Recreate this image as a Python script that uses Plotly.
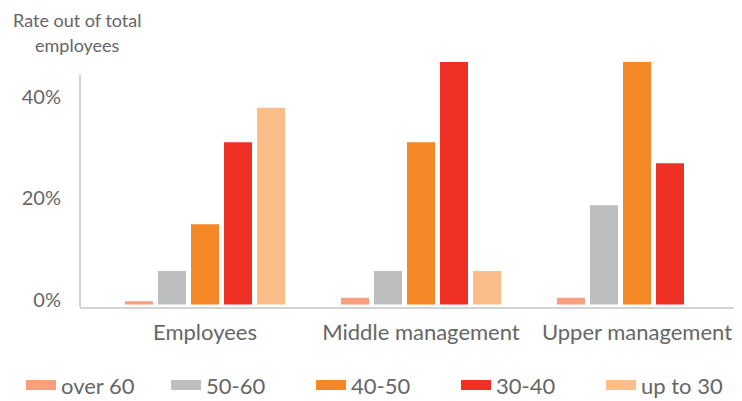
import plotly.graph_objects as go

categories = ["Employees", "Middle management", "Upper management"]
series_names = ["over 60", "50-60", "40-50", "30-40", "up to 30"]
over_60 = [1.6, 2.3, 2.3]
age_50_60 = [7.6, 7.6, 20.5]
age_40_50 = [16.8, 32.9, 48.7]
age_30_40 = [32.9, 48.7, 28.8]
up_to_30 = [39.7, 7.6, None]
y_tick_values = [0, 20, 40]
y_tick_labels = ["0%", "20%", "40%"]

series_values = [over_60, age_50_60, age_40_50, age_30_40, up_to_30]
colors = ["#F99F7E", "#BDBEC0", "#F48726", "#EE3124", "#FBBE8B"]

FONT = "Lato"
TXT = "#666666"

fig = go.Figure()
for name, vals, col in zip(series_names, series_values, colors):
    fig.add_trace(go.Bar(
        x=categories, y=vals, name=name, showlegend=False,
        marker=dict(color=col, line=dict(color="white", width=5)),
    ))
    # legend-only entry drawn as a wide rectangle
    fig.add_trace(go.Scatter(
        x=[None], y=[None], name=name, mode="lines",
        line=dict(color=col, width=10),
    ))

fig.update_layout(
    width=742, height=401,
    margin=dict(l=72, r=0, t=45, b=102.2, autoexpand=False),
    paper_bgcolor="white", plot_bgcolor="white",
    barmode="group", bargap=0.236, bargroupgap=0,
    font=dict(family=FONT, color=TXT, size=20),
    showlegend=True,
    legend=dict(
        orientation="h", x=-0.088, xanchor="left", y=-0.308, yanchor="middle",
        font=dict(family=FONT, size=22, color=TXT),
        entrywidth=100, itemwidth=30, bgcolor="rgba(0,0,0,0)",
    ),
    xaxis=dict(
        type="category", range=[-0.5787, 2.5232],
        showline=True, linecolor="#D3D3D3", linewidth=2,
        showgrid=False, zeroline=False, ticks="",
        tickfont=dict(family=FONT, size=22, color=TXT),
        ticklabelstandoff=5,
    ),
    yaxis=dict(
        range=[0, 50], showline=False, showgrid=False, zeroline=False,
        tickvals=y_tick_values, ticktext=y_tick_labels, ticks="",
        tickfont=dict(family=FONT, size=20, color=TXT),
        ticklabelstandoff=18, ticklabelshift=-7,
    ),
    shapes=[dict(
        type="line", xref="paper", yref="y", x0=0, x1=0, y0=0, y1=45.7,
        line=dict(color="#D3D3D3", width=2), layer="below",
    )],
    annotations=[
        dict(text="Rate out of total", xref="paper", yref="paper",
             x=-0.003, y=1.130, xanchor="center", yanchor="middle",
             showarrow=False, font=dict(family=FONT, size=18, color=TXT)),
        dict(text="employees", xref="paper", yref="paper",
             x=-0.003, y=1.0315, xanchor="center", yanchor="middle",
             showarrow=False, font=dict(family=FONT, size=18, color=TXT)),
    ],
)

fig.write_html("out.html")
